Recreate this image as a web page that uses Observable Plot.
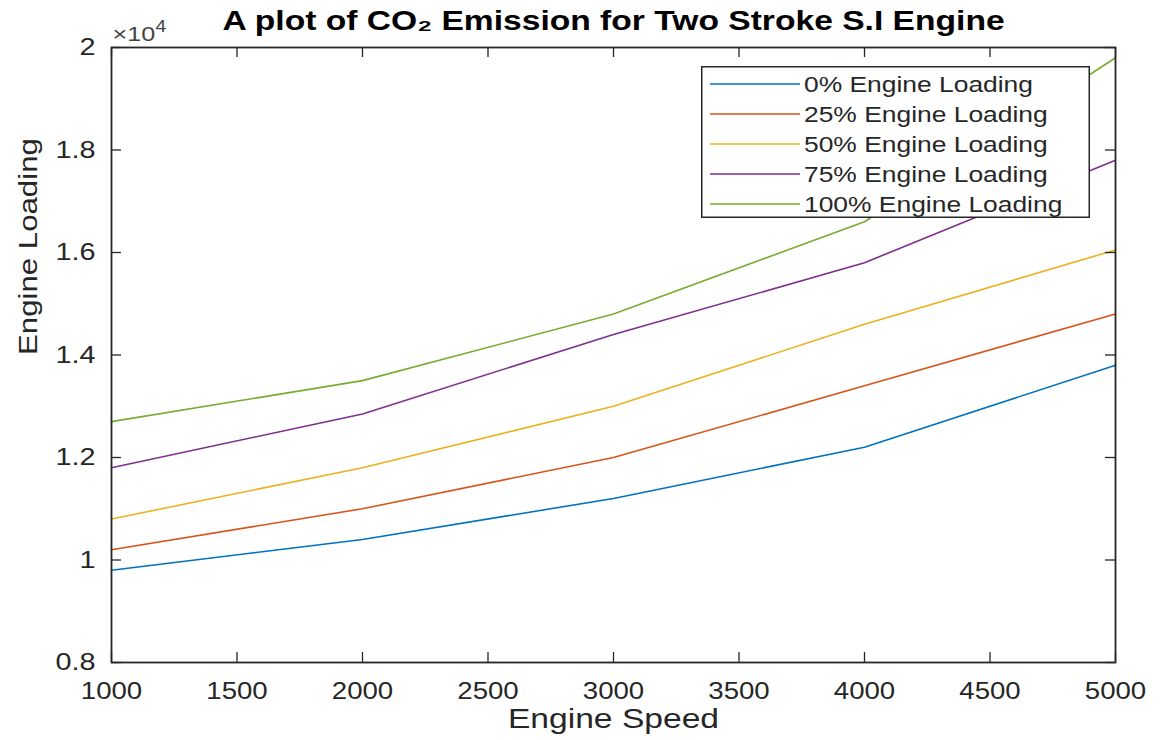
<!DOCTYPE html>
<html><head><meta charset="utf-8">
<script src="https://cdn.jsdelivr.net/npm/d3@7"></script>
<script src="https://cdn.jsdelivr.net/npm/@observablehq/plot@0.6"></script>
<style>
body{margin:0;background:#fff;font-family:"Liberation Sans",Arial,sans-serif;}
#wrap{position:relative;width:1160px;height:740px;}
#legend{position:absolute;left:701px;top:66px;}
</style></head><body><div id="wrap"></div>
<script>
const speeds = [1000, 2000, 3000, 4000, 5000];
const seriesNames = ["0% Engine Loading", "25% Engine Loading", "50% Engine Loading", "75% Engine Loading", "100% Engine Loading"];
const load0 = [9800, 10400, 11200, 12200, 13800];
const load25 = [10200, 11000, 12000, 13400, 14800];
const load50 = [10800, 11800, 13000, 14600, 16050];
const load75 = [11800, 12850, 14400, 15800, 17800];
const load100 = [12700, 13500, 14800, 16600, 19800];
const colors = ["#0072BD", "#D95319", "#EDB120", "#7E2F8E", "#77AC30"];
const xTicks = [1000, 1500, 2000, 2500, 3000, 3500, 4000, 4500, 5000];
const yTicks = [8000, 10000, 12000, 14000, 16000, 18000, 20000];
const titleText = "A plot of CO₂ Emission for Two Stroke S.I Engine";
const xLabel = "Engine Speed";
const yLabel = "Engine Loading";
const exponentBase = "×10";
const exponentPower = "4";

const allSeries = [load0, load25, load50, load75, load100];
const table = allSeries.flatMap((vals, i) => vals.map((v, j) => ({speed: speeds[j], value: v, series: seriesNames[i]})));

const W = 1160, H = 740, mL = 111, mR = 45, mT = 47, mB = 78;
const plotH = H - mT - mB, plotW = W - mL - mR, tk = 10;
const ink = "#262626";

const chart = Plot.plot({
  width: W, height: H,
  marginLeft: mL, marginRight: mR, marginTop: mT, marginBottom: mB,
  style: {fontFamily: '"Liberation Sans", Arial, sans-serif', fontSize: "23px", background: "#fff", overflow: "visible"},
  x: {domain: [1000, 5000], label: null, axis: null},
  y: {domain: [8000, 20000], label: null, axis: null},
  color: {domain: seriesNames, range: colors},
  marks: [
    Plot.line(table, {x: "speed", y: "value", stroke: "series", strokeWidth: 1.6}),
    Plot.tickX(xTicks, {x: d => d, insetTop: plotH - tk, stroke: ink, strokeWidth: 1.3}),
    Plot.tickX(xTicks, {x: d => d, insetBottom: plotH - tk, stroke: ink, strokeWidth: 1.3}),
    Plot.tickY(yTicks, {y: d => d, insetRight: plotW - tk, stroke: ink, strokeWidth: 1.3}),
    Plot.tickY(yTicks, {y: d => d, insetLeft: plotW - tk, stroke: ink, strokeWidth: 1.3}),
    Plot.frame({stroke: ink, strokeWidth: 1.8}),
    Plot.axisX(xTicks, {tickSize: 0, tickPadding: 20, fontSize: 23, fill: ink, tickFormat: d => String(d)}),
    Plot.axisY(yTicks, {tickSize: 0, tickPadding: 16, fontSize: 24, fill: ink, tickFormat: d => String(+(d / 1e4).toFixed(1))}),
    Plot.text([titleText], {frameAnchor: "top", lineAnchor: "middle", dy: -26, fontSize: 28, fontWeight: "bold", fill: "#000"}),
    Plot.text([exponentBase], {frameAnchor: "top-left", lineAnchor: "middle", textAnchor: "start", dy: -13, dx: 1, fontSize: 21, fill: "#444"}),
    Plot.text([exponentPower], {frameAnchor: "top-left", lineAnchor: "middle", textAnchor: "start", dy: -21, dx: 44, fontSize: 16, fill: "#444"}),
    Plot.text([xLabel], {frameAnchor: "bottom", lineAnchor: "middle", dy: 57, fontSize: 28, fill: ink}),
    Plot.text([yLabel], {frameAnchor: "left", lineAnchor: "middle", dx: -83, rotate: -90, fontSize: 26, fill: ink, ariaLabel: "ylabel"})
  ]
});

const wrap = document.getElementById("wrap");
wrap.appendChild(chart);

// Legend (inside the axes, top-right)
const lgW = 389, lgH = 152, rowH = 30;
const lg = d3.select(wrap).append("div").attr("id", "legend")
  .append("svg").attr("width", lgW).attr("height", lgH)
  .style("font-family", '"Liberation Sans", Arial, sans-serif');
lg.append("rect").attr("x", 0.75).attr("y", 0.75).attr("width", lgW - 1.5).attr("height", lgH - 1.5)
  .attr("fill", "#fff").attr("stroke", ink).attr("stroke-width", 1.5);
seriesNames.forEach((name, i) => {
  const cy = 18 + i * rowH;
  lg.append("line").attr("x1", 9).attr("x2", 99).attr("y1", cy).attr("y2", cy)
    .attr("stroke", colors[i]).attr("stroke-width", 1.6);
  lg.append("text").attr("x", 103).attr("y", cy).attr("dy", "0.35em")
    .attr("font-size", 22).attr("fill", ink).text(name);
});

// horizontal stretch to mimic the reference's aspect
const stretch = 1.2;
d3.select(wrap).selectAll("text").each(function() {
  const g = this.closest("g");
  if (g && g.getAttribute("aria-label") === "ylabel") return;
  const len = this.getComputedTextLength();
  if (len > 0) {
    this.setAttribute("textLength", len * stretch);
    this.setAttribute("lengthAdjust", "spacingAndGlyphs");
  }
});
</script></body></html>
